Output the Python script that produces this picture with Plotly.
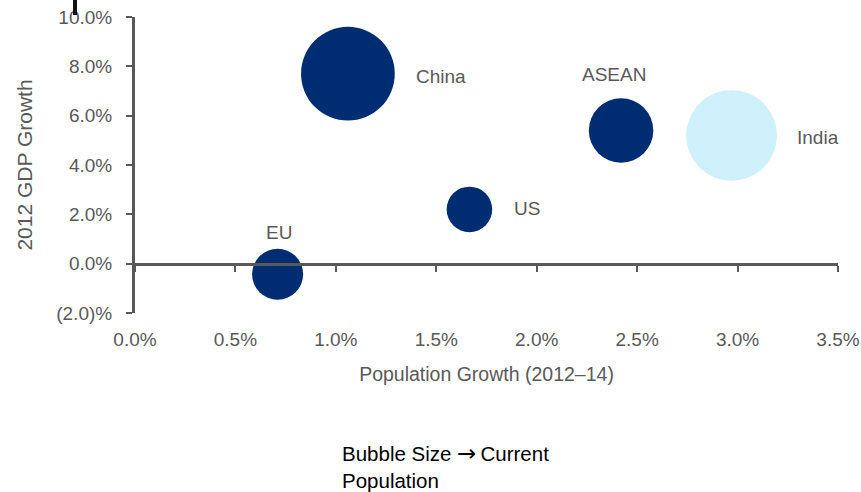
import math
import plotly.graph_objects as go

# Economies plotted: population growth vs GDP growth, bubble area ~ population
regions = ["China", "ASEAN", "India", "US", "EU"]
pop_growth = [1.06, 2.42, 2.97, 1.665, 0.71]        # % (2012-14)
gdp_growth = [7.7, 5.4, 5.2, 2.2, -0.43]            # % (2012)
population = [1330, 630, 1240, 314, 395]            # millions
colors = ["#002D72", "#002D72", "#CDF0FA", "#002D72", "#002D72"]

x_ticks = [0.0, 0.5, 1.0, 1.5, 2.0, 2.5, 3.0, 3.5]
x_ticktext = ["0.0%", "0.5%", "1.0%", "1.5%", "2.0%", "2.5%", "3.0%", "3.5%"]
y_ticks = [-2, 0, 2, 4, 6, 8, 10]
y_ticktext = ["(2.0)%", "0.0%", "2.0%", "4.0%", "6.0%", "8.0%", "10.0%"]

GRAY = "#595959"
FONT = "Liberation Sans, Arial, sans-serif"

W, H = 861, 492
M = dict(l=135, r=23, t=17, b=179)
PW = W - M["l"] - M["r"]
PH = H - M["t"] - M["b"]


def px_to_paper(px, py):
    """Convert page pixel position to paper coordinates."""
    return (px - M["l"]) / PW, 1 - (py - M["t"]) / PH


# bubble diameter in px proportional to sqrt(population)
diam = [2.57 * math.sqrt(p) for p in population]

fig = go.Figure()
fig.add_trace(go.Scatter(
    x=pop_growth, y=gdp_growth, mode="markers",
    marker=dict(size=diam, sizemode="diameter", color=colors,
                line=dict(width=0), opacity=1),
    hoverinfo="text", text=regions, xaxis="x", yaxis="y",
))
# carrier trace for the bottom labelled axis
fig.add_trace(go.Scatter(x=[None], y=[None], xaxis="x2", yaxis="y",
                         showlegend=False, hoverinfo="skip"))

# label placement relative to each bubble (px offsets, anchor)
label_style = {
    "China": dict(xshift=66, yshift=-3, xanchor="left"),
    "ASEAN": dict(xshift=-7, yshift=56, xanchor="center"),
    "India": dict(xshift=63, yshift=-2, xanchor="left"),
    "US": dict(xshift=43, yshift=1, xanchor="left"),
    "EU": dict(xshift=1, yshift=42, xanchor="center"),
}
for name, xv, yv in zip(regions, pop_growth, gdp_growth):
    fig.add_annotation(x=xv, y=yv, xref="x", yref="y", text=name,
                       showarrow=False, yanchor="middle",
                       font=dict(family=FONT, size=19, color=GRAY),
                       **label_style[name])

nx, ny = px_to_paper(340, 466)
fig.add_annotation(
    x=nx, y=ny, xref="paper", yref="paper",
    text=("Bubble Size <span style=\"font-family:'DejaVu Sans';font-size:23px\">"
          "\u2192</span>&#8201;Current<br>Population"),
    showarrow=False, align="left", xanchor="left", yanchor="middle",
    font=dict(family=FONT, size=20.5, color="#000000"))

y_range = [-2, 10]
x_range = [0, 3.5]
zero_pos = (0 - y_range[0]) / (y_range[1] - y_range[0])

fig.update_layout(
    width=W, height=H,
    margin=M,
    paper_bgcolor="white", plot_bgcolor="white",
    showlegend=False,
    font=dict(family=FONT, size=19, color=GRAY),
    xaxis=dict(range=x_range, anchor="free", position=zero_pos, automargin=False,
               showline=True, linecolor=GRAY, linewidth=3,
               ticks="outside", ticklen=6, tickwidth=2, tickcolor=GRAY,
               tickvals=x_ticks, showticklabels=False,
               showgrid=False, zeroline=False),
    xaxis2=dict(range=x_range, overlaying="x", anchor="y", side="bottom",
                automargin=False,
                showline=False, ticks="", tickvals=x_ticks, ticktext=x_ticktext,
                ticklabelstandoff=13,
                tickfont=dict(family=FONT, size=19, color=GRAY),
                showgrid=False, zeroline=False,
                title=dict(text="Population Growth (2012\u201314)", standoff=18,
                           font=dict(family=FONT, size=19.5, color=GRAY))),
    yaxis=dict(range=y_range, automargin=False,
               showline=True, linecolor=GRAY, linewidth=3,
               ticks="outside", ticklen=6, tickwidth=2, tickcolor=GRAY,
               tickvals=y_ticks, ticktext=y_ticktext, ticklabelstandoff=10,
               tickfont=dict(family=FONT, size=19, color=GRAY),
               showgrid=False, zeroline=False,
               title=dict(text="2012 GDP Growth", standoff=18,
                          font=dict(family=FONT, size=21, color=GRAY))),
)

# cropped heading glyph at the top edge
gx, gy0 = px_to_paper(75, 15)
_, gy1 = px_to_paper(75, 0)
fig.add_shape(type="line", xref="paper", yref="paper",
              x0=gx, x1=gx, y0=gy0, y1=gy1,
              line=dict(color="#111111", width=4))

fig.write_html("out.html")
